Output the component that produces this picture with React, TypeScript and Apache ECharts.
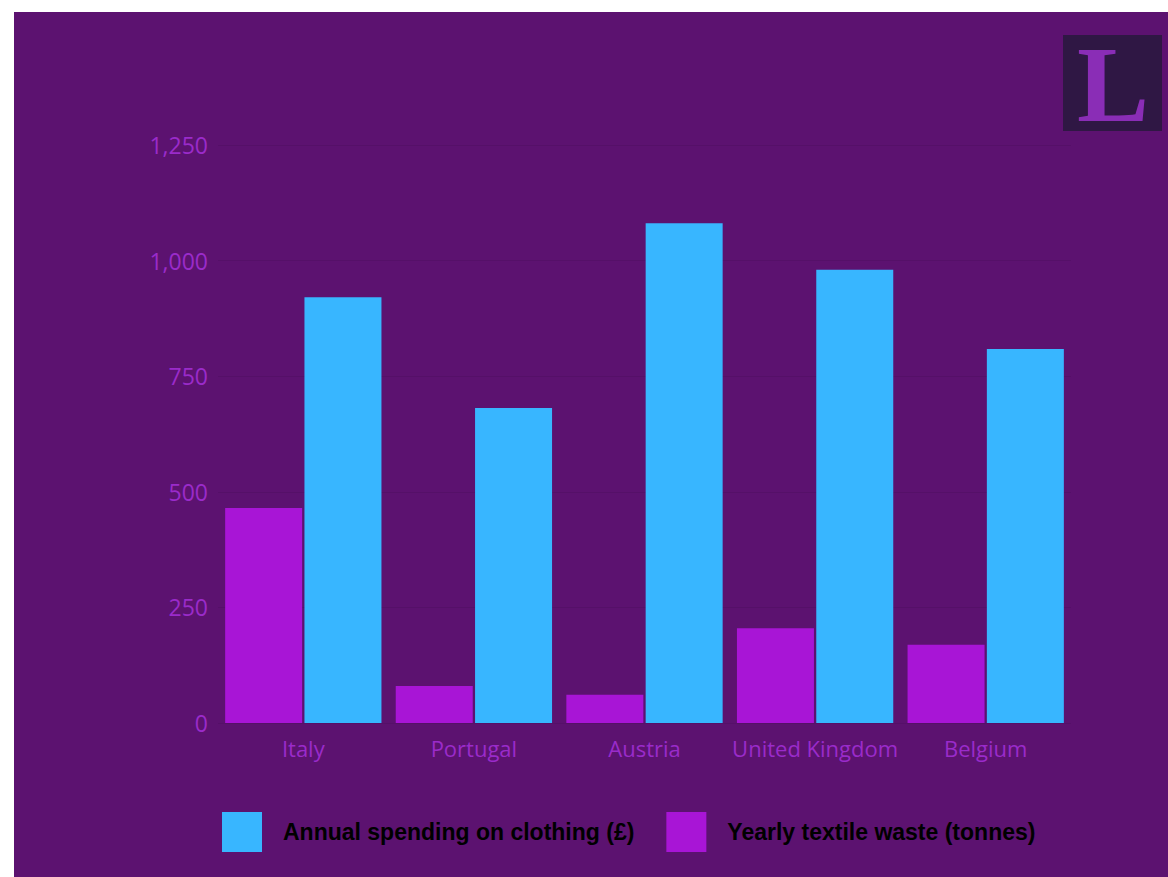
import React, { useEffect, useRef } from "react";
import * as echarts from "echarts";

const categories = ["Italy", "Portugal", "Austria", "United Kingdom", "Belgium"];
const spending = [921, 681, 1081, 980, 809];
const waste = [465, 80, 61, 205, 169];
const seriesNames = ["Annual spending on clothing (£)", "Yearly textile waste (tonnes)"];

export default function App() {
  const ref = useRef<HTMLDivElement>(null);
  useEffect(() => {
    if (!ref.current) return;
    const chart = echarts.init(ref.current, undefined, { renderer: "svg" });
    const labelColor = "#9a2bca";
    chart.setOption({
      animation: false,
      backgroundColor: "#5c1270",
      grid: { left: 204, top: 133, width: 853, height: 578, containLabel: false },
      legend: {
        data: [seriesNames[0], seriesNames[1]],
        left: 203,
        top: 795,
        itemWidth: 40,
        itemHeight: 40,
        itemGap: 32,
        icon: "rect",
        textStyle: {
          color: "#000",
          fontFamily: "Liberation Sans, Arial, sans-serif",
          fontWeight: "bold",
          fontSize: 23,
          padding: [0, 0, 0, 16],
        },
      },
      xAxis: {
        type: "category",
        data: categories,
        axisLine: { show: false },
        axisTick: { show: false },
        axisLabel: {
          color: labelColor,
          fontSize: 22,
          margin: 14,
          interval: 0,
          fontFamily: "Open Sans, sans-serif",
        },
      },
      yAxis: {
        type: "value",
        min: 0,
        max: 1250,
        interval: 250,
        axisLine: { show: false },
        axisTick: { show: false },
        splitLine: { lineStyle: { color: "rgba(0,0,0,0.07)", width: 1 } },
        axisLabel: {
          color: labelColor,
          fontSize: 23,
          margin: 10,
          fontFamily: "Open Sans, sans-serif",
          formatter: (v: number) => v.toLocaleString("en-US"),
        },
      },
      series: [
        {
          name: seriesNames[1],
          type: "bar",
          data: waste,
          itemStyle: { color: "#a815d6" },
          barWidth: 77,
          barGap: "3%",
        },
        {
          name: seriesNames[0],
          type: "bar",
          data: spending,
          itemStyle: { color: "#38b6ff" },
          barWidth: 77,
          barGap: "3%",
        },
      ],
      graphic: [
        {
          type: "rect",
          left: 1049,
          top: 23,
          shape: { width: 99, height: 96 },
          style: { fill: "#2f1744" },
        },
        {
          type: "text",
          left: 1063,
          top: 18,
          style: {
            text: "L",
            fill: "#8a2db6",
            font: "bold 108px 'Liberation Serif', 'DejaVu Serif', serif",
          },
        },
      ],
    });
    return () => chart.dispose();
  }, []);
  return (
    <div
      ref={ref}
      style={{ position: "absolute", left: 14, top: 12, width: 1154, height: 865 }}
    />
  );
}
